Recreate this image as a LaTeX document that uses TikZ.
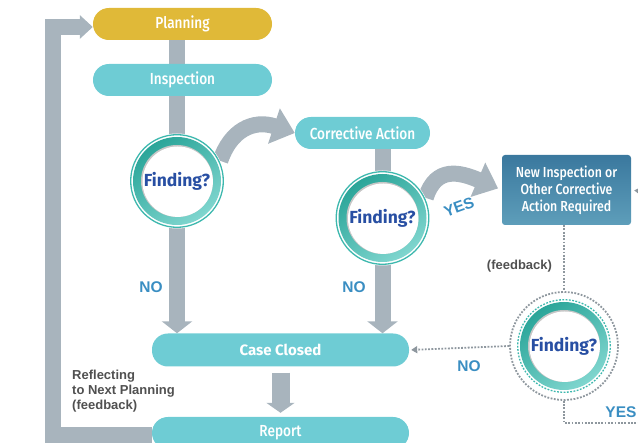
\documentclass[tikz,border=0pt]{standalone}
\usepackage{fontspec}
\setmainfont{Fira Sans}
\newfontfamily\condfont[FakeStretch=0.85, UprightFont=* Medium]{Fira Sans}
\newfontfamily\arialfont{Liberation Sans}
\usetikzlibrary{arrows.meta,calc}
\pgfdeclarelayer{bg}
\pgfsetlayers{bg,main}
\definecolor{pillteal}{HTML}{6ECCD4}
\definecolor{gold}{HTML}{E0B938}
\definecolor{bargray}{HTML}{A8B4BD}
\definecolor{ringdark}{HTML}{2AA599}
\definecolor{ringlight}{HTML}{80D6CF}
\definecolor{ringthin}{HTML}{3DB8AE}
\definecolor{boxtop}{HTML}{3A789E}
\definecolor{boxbot}{HTML}{5E9EBA}
\definecolor{findblue}{HTML}{284FA3}
\definecolor{labblue}{HTML}{3A8EC2}
\definecolor{txtgray}{HTML}{505050}
\definecolor{dotgray}{HTML}{8E979E}
\begin{document}
\begin{tikzpicture}[x=1pt,y=-1pt,
  pill/.style={rectangle, rounded corners=15.9pt, minimum height=32pt, inner sep=0pt,
    text=white, font=\condfont\fontsize{16}{18}\selectfont},
  findnode/.style={circle, minimum size=#1, inner sep=0pt, fill=white, text=findblue,
    font=\bfseries\fontsize{17.5}{19}\selectfont,
    path picture={
      \coordinate (pc) at (path picture bounding box.center);
      \draw[ringthin, line width=1.3pt] (pc) circle (46.3pt);
      \shade[top color=ringdark, bottom color=ringlight, shading angle=35] (pc) circle (44pt);
      \fill[gray!45] (pc) circle (36pt);
      \fill[white] ($(pc)+(0.7,0.7)$) circle (35.2pt);
    }},
  bluebox/.style={rectangle, rounded corners=3pt, minimum width=129pt, minimum height=70pt,
    top color=boxtop, bottom color=boxbot, text=white, align=center, inner sep=0pt,
    font=\condfont\fontsize{14.5}{17}\selectfont},
  lab/.style={text=labblue, inner sep=0pt, font=\arialfont\bfseries\fontsize{15.5}{17}\selectfont},
  graylab/.style={text=txtgray, inner sep=0pt, font=\arialfont\bfseries\fontsize{13}{15}\selectfont},
  bar/.style={draw=bargray, line width=16pt},
  dotline/.style={draw=dotgray, line width=1.8pt, dash pattern=on 1.8pt off 1.5pt},
]
\path[use as bounding box] (0,0) rectangle (638,443);
\clip (0,0) rectangle (638,443);

\node[pill, fill=gold, minimum width=179pt] (plan) at (182.5,24) {Planning};
\node[pill, fill=pillteal, minimum width=179pt] (insp) at (182.5,80) {Inspection};
\node[pill, fill=pillteal, minimum width=135pt] (ca) at (362.5,133) {Corrective Action};
\node[pill, fill=pillteal, minimum width=257pt, minimum height=33pt,
      font=\bfseries\fontsize{15}{17}\selectfont] (cc) at (280.5,350) {Case Closed};
\node[pill, fill=pillteal, minimum width=257pt] (rep) at (280.5,433) {Report};
\node[bluebox] (nib) at (566.5,190) {New Inspection or\\Other Corrective\\Action Required};

\node[findnode=95pt] (f1) at (177,181) {Finding?};
\node[findnode=95pt] (f2) at (382.5,218) {Finding?};
\node[findnode=108pt, draw=dotgray, line width=1.8pt, dash pattern=on 1.8pt off 1.5pt] (f3) at (564,346) {Finding?};

\node[lab] (no1) at (151,287) {NO};
\node[lab] (no2) at (354,287) {NO};
\node[lab] (no3) at (469,366) {NO};
\node[lab, rotate=20] (yes1) at (459,207) {YES};
\node[lab] (yes2) at (621,412) {YES};
\node[graylab] (fb) at (519.5,266) {(feedback)};
\node[graylab, align=left, anchor=west] (refl) at (72,391) {Reflecting\\to Next Planning\\(feedback)};

\coordinate (lb) at (53,435);
\coordinate (lt) at (53,27);
\coordinate (rin) at (648,192);
\coordinate (yr) at (648,423);

\begin{pgfonlayer}{bg}
\clip (0,0) rectangle (638,443);
\draw[bar, -{Triangle[length=12pt,width=30pt]}] (f1 |- plan.south) -- (f1 |- cc.north);
\draw[bar, -{Triangle[length=12pt,width=30pt]}] (f2 |- ca.south) -- (f2 |- cc.north);
\draw[bar, -{Triangle[length=22pt,width=36pt]}] (f1.25) .. controls +(10,-30) and +(-42,-14) .. (ca.west);
\draw[bar, -{Triangle[length=22pt,width=36pt]}, shorten >=4pt] (f2.25) .. controls +(10,-32) and +(-42,-18) .. (nib.west);
\draw[bar, line width=18pt, -{Triangle[length=10pt,width=28pt]}, shorten <=6pt, shorten >=4pt] (cc.south) -- (rep.north);
\draw[bar, -{Triangle[length=13pt,width=23pt]}] (rep.west |- lb) -- (lb) -- (lt) -- (lt -| plan.west);
\end{pgfonlayer}

\draw[dotline] (f3 |- nib.south) -- (f3.north);
\draw[dotline] (f3.south) -- (f3 |- yr) -- (yr);
\draw[dotline, -{Triangle[length=6pt,width=7pt]}, shorten >=2pt] (f3.west) -- (cc.east);
\draw[dotline, -{Triangle[length=6pt,width=7pt]}, shorten >=3pt] (rin) -- (nib.east);
\end{tikzpicture}
\end{document}
